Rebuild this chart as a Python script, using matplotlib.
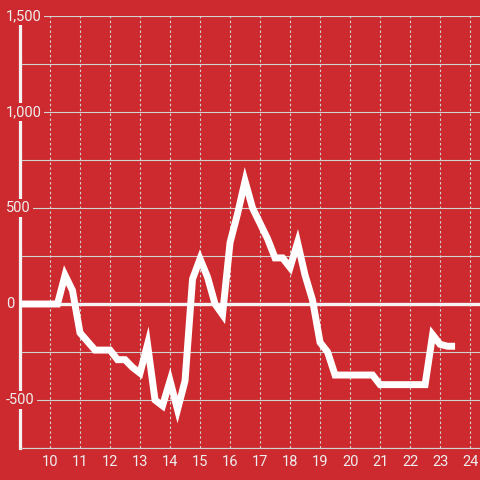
import numpy as np
import matplotlib
matplotlib.use("Agg")
import matplotlib.pyplot as plt
import matplotlib.transforms as mtransforms

# quarter-hour readings, 9:00 -> 23:30
hours = np.arange(9.0, 23.51, 0.25)
values = [0, 0, 0, 0, 0, 0, 150, 70,
          -150, -195, -240, -240, -240, -290, -290, -330,
          -360, -210, -500, -530, -400, -550, -400, 130,
          235, 140, 0, -55, 320, 470, 640, 500,
          420, 340, 240, 240, 190, 320, 150, 20,
          -200, -250, -370, -370, -370, -370, -370, -370,
          -420, -420, -420, -420, -420, -420, -420, -160,
          -210, -220, -220]

x_ticks = list(range(10, 25))
y_ticks = [-500, 0, 500, 1000, 1500]
y_labels = ["-500", "0", "500", "1,000", "1,500"]

bg = "#cc2a2e"
text_col = "#eeeeee"
grid_col = "#d2d2d2"

plt.rcParams['font.family'] = ['Roboto', 'DejaVu Sans']

fig = plt.figure(figsize=(4.8, 4.8), dpi=100)
fig.patch.set_facecolor(bg)
ax = fig.add_axes([20 / 480, 32 / 480, 460 / 480, 432 / 480])
ax.set_facecolor(bg)

ax.set_xlim(9, 24.33)
ax.set_ylim(-750, 1500)

# grid: solid horizontal every 250, dotted vertical every hour
ax.set_axisbelow(True)
ax.set_yticks(np.arange(-750, 1501, 250))
ax.set_yticklabels([])
ax.set_xticks(x_ticks)
ax.set_xticklabels([str(t) for t in x_ticks])
ax.grid(axis='y', color=grid_col, linewidth=0.8)
ax.grid(axis='x', color=grid_col, linewidth=0.8, linestyle=(0, (2.2, 2.2)))
ax.tick_params(axis='both', length=0)
ax.tick_params(axis='x', colors=text_col, labelsize=10.5, pad=5)

for side in ['top', 'right']:
    ax.spines[side].set_visible(False)
ax.spines['bottom'].set_color(grid_col)
ax.spines['bottom'].set_linewidth(0.8)
ax.spines['left'].set_color('#f4f4f4')
ax.spines['left'].set_linewidth(2.3)

# y labels sit on a red box that hides the axis line behind them
trans = mtransforms.blended_transform_factory(ax.transAxes, ax.transData)
for v, lab in zip(y_ticks, y_labels):
    ax.text(-14 / 460, v, lab, transform=trans, ha='left', va='center',
            color=text_col, fontsize=10.5, zorder=3, clip_on=False,
            bbox=dict(facecolor=bg, edgecolor='none', pad=1.5))

ax.axhline(0, color='#f4f4f4', linewidth=2.4, zorder=4)
ax.plot(hours, values, color='white', linewidth=5, zorder=5,
        solid_joinstyle='miter', solid_capstyle='butt', clip_on=False)

fig.savefig("out.png", dpi=100, facecolor=bg)
